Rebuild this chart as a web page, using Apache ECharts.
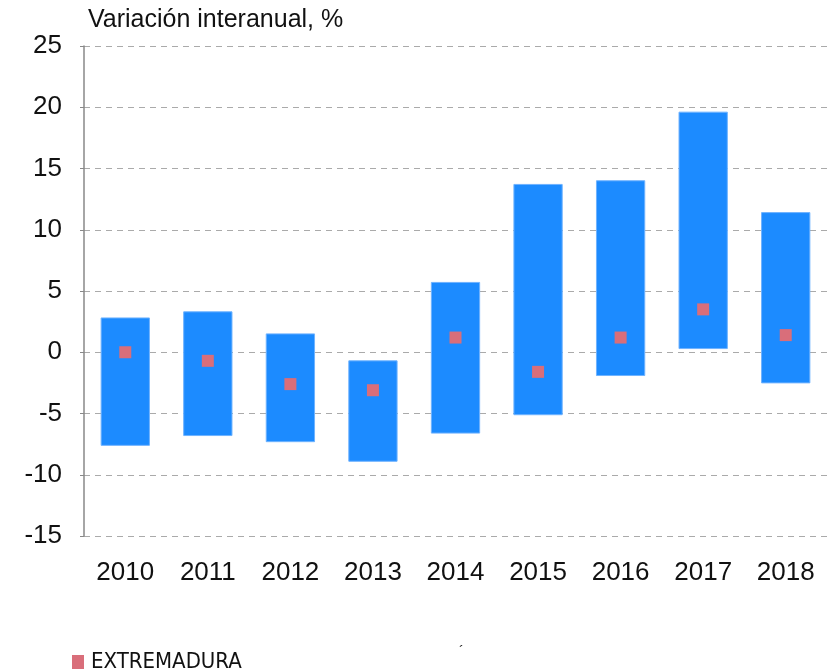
<!DOCTYPE html>
<html>
<head>
<meta charset="utf-8">
<script src="https://cdn.jsdelivr.net/npm/echarts@6/dist/echarts.min.js"></script>
<style>
  html, body { margin: 0; padding: 0; background: #fff; }
  #chart { width: 827px; height: 672px; }
</style>
</head>
<body>
<div id="chart"></div>
<script>
"use strict";
// años
var years = ['2010', '2011', '2012', '2013', '2014', '2015', '2016', '2017', '2018'];
// rango (mínimo / máximo) de las comunidades
var lowVals  = [-7.6, -6.8, -7.3, -8.9, -6.6, -5.1, -1.9, 0.3, -2.5];
var highVals = [2.8, 3.3, 1.5, -0.7, 5.7, 13.7, 14.0, 19.6, 11.4];
// Extremadura
var extVals  = [0.0, -0.7, -2.6, -3.1, 1.2, -1.6, 1.2, 3.5, 1.4];

var rangeData = years.map(function(y, i){ return [i, lowVals[i], highVals[i]]; });

var font = '"Liberation Sans", Arial, sans-serif';
var chart = echarts.init(document.getElementById('chart'));

var option = {
  animation: false,
  grid: { left: 84, right: 0, top: 46, bottom: 136 },
  legend: {
    left: 67, top: 646, itemWidth: 12, itemHeight: 14, itemGap: 4,
    data: [{ name: 'EXTREMADURA', icon: 'rect' }],
    textStyle: { fontFamily: '"Liberation Sans Narrow", "DejaVu Sans Condensed", sans-serif', fontSize: 22, color: '#111', padding: [0, 0, 0, 2] }
  },
  graphic: [
    { type: 'text', left: 88, top: 8, style: { text: 'Variación interanual, %', font: '25px ' + font, fill: '#111' } },
    { type: 'text', left: 459, top: 645, style: { text: '´', font: '14px ' + font, fill: '#111' } }
  ],
  xAxis: {
    type: 'category', data: years,
    axisLine: { show: false }, axisTick: { show: false },
    axisLabel: { fontFamily: font, fontSize: 26, color: '#111', margin: 24 }
  },
  yAxis: {
    type: 'value', min: -15, max: 25, interval: 5,
    axisLine: { show: true, lineStyle: { color: '#888', width: 1.5 } },
    axisTick: { show: true, length: 4, lineStyle: { color: '#888' } },
    axisLabel: { fontFamily: font, fontSize: 26, color: '#111', margin: 22 },
    splitLine: { lineStyle: { color: '#aaa', type: [6, 5], width: 1.2 } }
  },
  series: [
    {
      name: 'Rango', type: 'custom', data: rangeData, z: 2,
      encode: { x: 0, y: [1, 2] },
      renderItem: function(params, api){
        var lo = api.coord([api.value(0), api.value(1)]);
        var hi = api.coord([api.value(0), api.value(2)]);
        var w = api.size([1, 0])[0] * 0.585;
        return {
          type: 'rect',
          shape: { x: lo[0] - w / 2, y: hi[1], width: w, height: lo[1] - hi[1] },
          style: { fill: '#1C8BFF', stroke: '#6FB3FF', lineWidth: 1 }
        };
      }
    },
    {
      name: 'EXTREMADURA', type: 'scatter', data: extVals, z: 5,
      symbol: 'rect', symbolSize: 12,
      itemStyle: { color: '#D96E7A', opacity: 1 }
    }
  ]
};
chart.setOption(option);
</script>
</body>
</html>
